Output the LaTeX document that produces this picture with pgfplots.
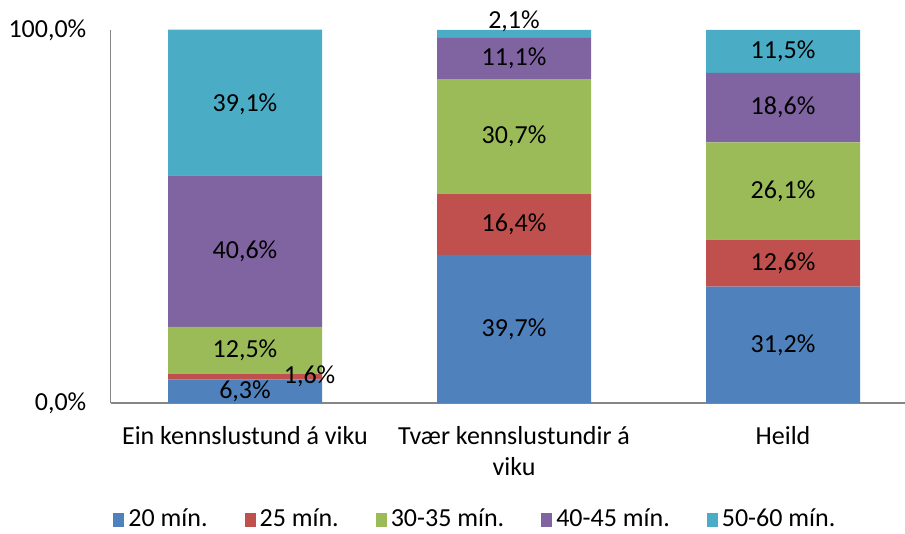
\documentclass[border=0pt]{standalone}
\usepackage{fontspec}
\setmainfont{Carlito}
\usepackage{pgfplots}
\pgfplotsset{compat=1.18}
\usepackage{pgfplotstable}

\definecolor{cA}{HTML}{4F81BD}
\definecolor{cB}{HTML}{C0504D}
\definecolor{cC}{HTML}{9BBB59}
\definecolor{cD}{HTML}{8064A2}
\definecolor{cE}{HTML}{4BACC6}
\definecolor{axgray}{HTML}{868686}

\pgfplotstableread{
x s1 s2 s3 s4 s5
0 6.3 1.6 12.5 40.6 39.1
1 39.7 16.4 30.7 11.1 2.1
2 31.2 12.6 26.1 18.6 11.5
}\datatable

\pgfplotstableread{
x y val
0 3.15 6.3
0.24 7.2 1.6
0 14.15 12.5
0 40.7 40.6
0 80.0 39.1
1 19.85 39.7
1 47.9 16.4
1 71.45 30.7
1 92.35 11.1
1 102.2 2.1
2 15.6 31.2
2 37.5 12.6
2 56.85 26.1
2 79.2 18.6
2 94.25 11.5
}\labeltable

\begin{document}
\fontsize{26bp}{31bp}\selectfont
\begin{tikzpicture}
\pgfplotsset{
  common/.style={
    at={(110.5bp,131bp)}, anchor=south west,
    scale only axis, width=794.5bp, height=373bp,
    xmin=-0.5, xmax=2.4535, ymin=0, ymax=100,
    clip=false,
  }
}
\begin{axis}[common,
  ybar stacked, bar width=0.5725,
  axis x line*=bottom, axis y line*=left,
  axis line style={draw=axgray, line width=1.5bp, -},
  major tick length=0pt,
  ytick={0,100}, yticklabels={{0,0\%},{100,0\%}},
  yticklabel style={inner sep=0pt, anchor=east, xshift=-24bp},
  xtick={0,1,2},
  xticklabels={{Ein kennslustund á viku},{Tvær kennslustundir á\\viku},{Heild}},
  xticklabel style={align=center, inner sep=0pt, anchor=north, yshift=-23bp},
  legend columns=5,
  legend style={draw=none, fill=none, at={(0.458,-0.3137)}, anchor=center,
    /tikz/every even column/.append style={column sep=37bp},
    /tikz/every odd column/.append style={column sep=4bp},
    nodes={inner sep=0pt}},
  legend cell align=left,
  legend image code/.code={\fill[#1] (0bp,-7bp) rectangle (11bp,7bp);},
  every axis plot/.append style={draw=none},
]
\addplot[fill=cA] table[x=x,y=s1]{\datatable};
\addlegendentry{20 mín.}
\addplot[fill=cB] table[x=x,y=s2]{\datatable};
\addlegendentry{25 mín.}
\addplot[fill=cC] table[x=x,y=s3]{\datatable};
\addlegendentry{30-35 mín.}
\addplot[fill=cD] table[x=x,y=s4]{\datatable};
\addlegendentry{40-45 mín.}
\addplot[fill=cE] table[x=x,y=s5]{\datatable};
\addlegendentry{50-60 mín.}
\end{axis}
\begin{axis}[common, hide axis]
\addplot[only marks, mark=none, point meta=explicit,
  nodes near coords={\pgfmathprintnumber[use comma,fixed,fixed zerofill,precision=1,assume math mode=true]{\pgfplotspointmeta}\%},
  every node near coord/.append style={anchor=center, inner sep=0pt, text=black}]
  table[x=x,y=y,meta=val]{\labeltable};
\end{axis}
\pgfresetboundingbox
\path[use as bounding box] (0,0) rectangle (905bp,534bp);
\end{tikzpicture}
\end{document}
